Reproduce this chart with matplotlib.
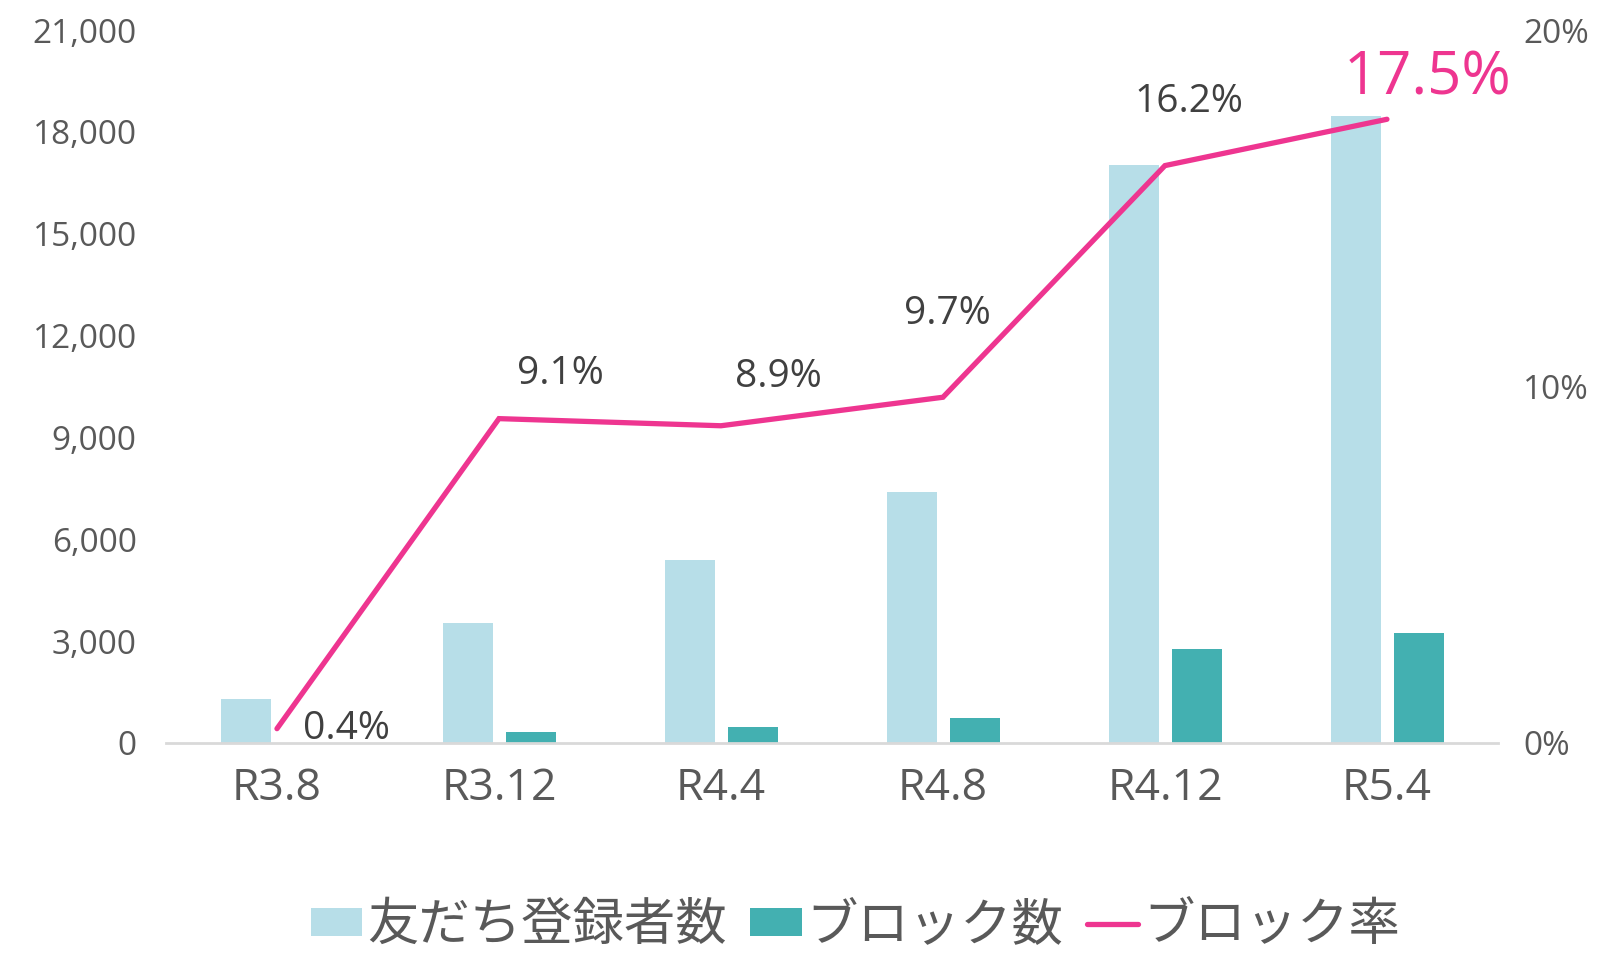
import matplotlib
matplotlib.use('agg')
import matplotlib.pyplot as plt
import numpy as np

plt.rcParams['font.family'] = ['Open Sans', 'Noto Sans CJK JP', 'DejaVu Sans']

# data
periods = ['R3.8', 'R3.12', 'R4.4', 'R4.8', 'R4.12', 'R5.4']
friends = [1300, 3520, 5380, 7400, 17020, 18460]
blocks = [5, 320, 480, 720, 2760, 3230]
block_rate = [0.4, 9.1, 8.9, 9.7, 16.2, 17.5]

# label offsets (points) for the rate labels
label_offsets = [(50, 0), (44, 32), (41, 35), (3, 60), (17, 46), (29, 29)]

light = '#B7DEE8'
teal = '#43B0B1'
pink = '#EE3590'
gray = '#595959'
dark = '#404040'

fig = plt.figure(figsize=(15.99, 9.58), dpi=100)
ax = fig.add_axes([0.1038, 0.2245, 0.833, 0.744])
x = np.arange(len(periods))
w = 0.225

ax.bar(x - 0.14, friends, w, color=light, label='友だち登録者数', zorder=2)
ax.bar(x + 0.145, blocks, w, color=teal, label='ブロック数', zorder=2)

ax.set_xlim(-0.5, len(periods) - 0.5)
ax.set_ylim(0, 21000)
ax.set_yticks(np.arange(0, 21001, 3000))
ax.set_yticklabels([f'{v:,}' for v in range(0, 21001, 3000)])
ax.set_xticks(x)
ax.set_xticklabels(periods)
ax.tick_params(axis='y', length=0, pad=21, labelsize=24, labelcolor=gray)
ax.tick_params(axis='x', length=0, pad=17, labelsize=32, labelcolor=gray)
for s in ['top', 'left', 'right']:
    ax.spines[s].set_visible(False)
ax.spines['bottom'].set_color('#D9D9D9')
ax.spines['bottom'].set_linewidth(2)

ax2 = ax.twinx()
ax2.plot(x, block_rate, color=pink, lw=3.8, solid_capstyle='round',
         solid_joinstyle='miter', label='ブロック率', zorder=3)
ax2.set_ylim(0, 20)
ax2.set_yticks([0, 10, 20])
ax2.set_yticklabels(['0%', '10%', '20%'])
ax2.tick_params(axis='y', length=0, pad=18, labelsize=24, labelcolor=gray)
for s in ax2.spines.values():
    s.set_visible(False)

for i, r in enumerate(block_rate):
    last = i == len(block_rate) - 1
    ax2.annotate(f'{r}%', (x[i], r), xytext=label_offsets[i],
                 textcoords='offset points', ha='center', va='center',
                 fontsize=43 if last else 28, color=pink if last else dark)

h1, l1 = ax.get_legend_handles_labels()
h2, l2 = ax2.get_legend_handles_labels()
fig.legend(h1 + h2, l1 + l2, loc='center', bbox_to_anchor=(0.535, 0.034),
           ncol=3, frameon=False, labelcolor=gray,
           prop={'family': ['Noto Sans CJK JP'], 'size': 37},
           handlelength=1.0, handleheight=0.45, handletextpad=0.1,
           columnspacing=0.45, borderpad=0)

fig.savefig('out.png', dpi=100)
